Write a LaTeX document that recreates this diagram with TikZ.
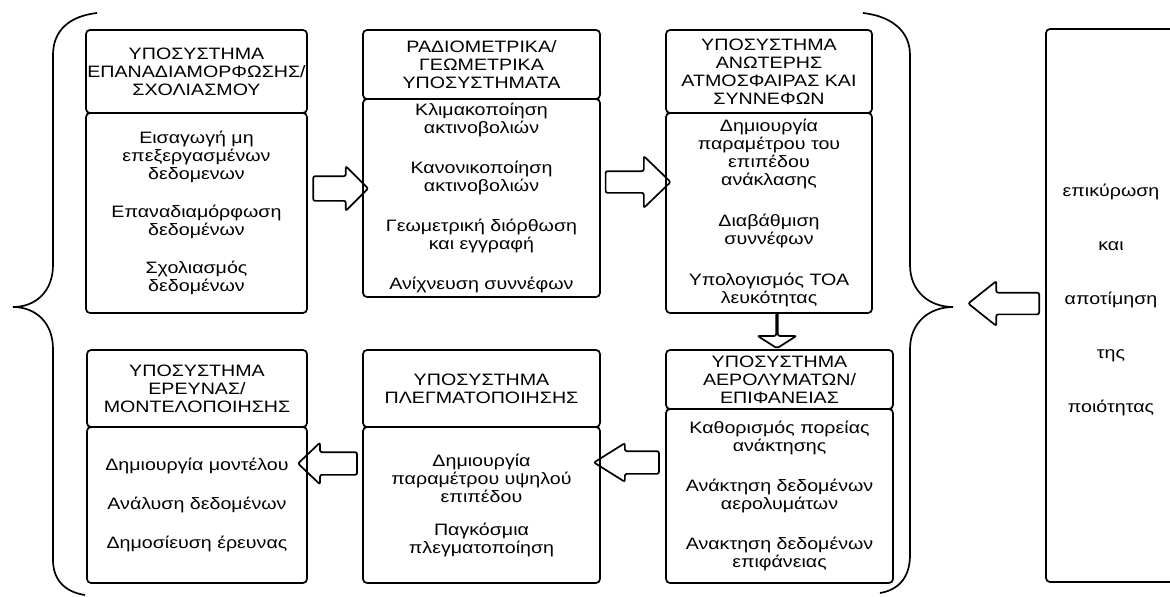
\documentclass[tikz,border=0pt]{standalone}
\usepackage{fontspec}
\setmainfont{Liberation Sans}[FakeStretch=1.19]
\usetikzlibrary{shapes.arrows}
\newcommand\boxfont{\fontsize{16.5}{18}\selectfont}
\begin{document}
\begin{tikzpicture}[x=1pt,y=-1pt,line width=1.7pt,
  box/.style={draw,rounded corners=4pt,inner sep=0pt,align=center,font=\boxfont},
  plain/.style={inner sep=0pt,align=center,font=\boxfont},
  barrow/.style={draw,single arrow,rounded corners=2pt,inner xsep=0pt,outer sep=0pt,minimum width=0pt},
  brace/.style={draw,line width=1.7pt}]
\useasboundingbox (0,0) rectangle (1170,597);

% top row
\node[box,minimum width=221pt,minimum height=83pt] (h1) at (196.5,71.5)
  {ΥΠΟΣΥΣΤΗΜΑ\\ΕΠΑΝΑΔΙΑΜΟΡΦΩΣΗΣ/\\ΣΧΟΛΙΑΣΜΟΥ};
\node[box,minimum width=221pt,minimum height=200pt] (b1) at (196.5,213)
  {Εισαγωγή μη\\επεξεργασμένων\\δεδομενων\\[20pt]Επαναδιαμόρφωση\\δεδομένων\\[20pt]Σχολιασμός\\δεδομένων};

\node[box,minimum width=237pt,minimum height=69pt] (h2) at (481.5,64.5)
  {ΡΑΔΙΟΜΕΤΡΙΚΑ/\\ΓΕΩΜΕΤΡΙΚΑ\\ΥΠΟΣΥΣΤΗΜΑΤΑ};
\node[box,minimum width=237pt,minimum height=198pt] (b2) at (481.5,198)
  {Κλιμακοποίηση\\ακτινοβολιών\\[22pt]Κανονικοποίηση\\ακτινοβολιών\\[22pt]Γεωμετρική διόρθωση\\και εγγραφή\\[22pt]Ανίχνευση συννέφων};

\node[box,minimum width=206pt,minimum height=83pt] (h3) at (769,71.5)
  {ΥΠΟΣΥΣΤΗΜΑ\\ΑΝΩΤΕΡΗΣ\\ΑΤΜΟΣΦΑΙΡΑΣ ΚΑΙ\\ΣΥΝΝΕΦΩΝ};
\node[box,minimum width=206pt,minimum height=200pt] (b3) at (769,213)
  {Δημιουργία\\παραμέτρου του\\επιπέδου\\ανάκλασης\\[23pt]Διαβάθμιση\\συννέφων\\[23pt]Υπολογισμός ΤΟΑ\\λευκότητας};

% bottom row
\node[box,minimum width=220pt,minimum height=77pt] (h4) at (197,388.5)
  {ΥΠΟΣΥΣΤΗΜΑ\\ΕΡΕΥΝΑΣ/\\ΜΟΝΤΕΛΟΠΟΙΗΣΗΣ};
\node[box,minimum width=220pt,minimum height=156pt] (b4) at (197,505)
  {Δημιουργία μοντέλου\\[21pt]Ανάλυση δεδομένων\\[21pt]Δημοσίευση έρευνας};

\node[box,minimum width=237pt,minimum height=77pt] (h5) at (481.5,388.5)
  {ΥΠΟΣΥΣΤΗΜΑ\\ΠΛΕΓΜΑΤΟΠΟΙΗΣΗΣ};
\node[box,minimum width=237pt,minimum height=156pt] (b5) at (481.5,505)
  {Δημιουργία\\παραμέτρου υψηλού\\επιπέδου\\[15pt]Παγκόσμια\\πλεγματοποίηση};

\node[box,minimum width=227pt,minimum height=59pt] (h6) at (779.5,379.5)
  {ΥΠΟΣΥΣΤΗΜΑ\\ΑΕΡΟΛΥΜΑΤΩΝ/\\ΕΠΙΦΑΝΕΙΑΣ};
\node[box,minimum width=227pt,minimum height=174pt] (b6) at (779.5,496)
  {Καθορισμός πορείας\\ανάκτησης\\[22pt]Ανάκτηση δεδομένων\\αερολυμάτων\\[22pt]Ανακτηση δεδομένων\\επιφάνειας};

% right box
\node[box,minimum width=130pt,minimum height=553pt] (rb) at (1111,305.5) {};
\node[plain] (rbt) at (1111,299.5)
  {επικύρωση\\[36pt]και\\[36pt]αποτίμηση\\[36pt]της\\[36pt]ποιότητας};

% block arrows
\node[barrow,minimum height=55pt,inner ysep=11.5pt,single arrow head extend=10pt,single arrow tip angle=90,shape border rotate=0] (a1) at (334.5,188.5) {};
\node[barrow,minimum height=65pt,inner ysep=10pt,single arrow head extend=15pt,single arrow tip angle=88,shape border rotate=0] (a2) at (632.5,182) {};
\node[barrow,minimum height=35pt,inner ysep=7pt,single arrow head extend=18.5pt,single arrow tip angle=115,shape border rotate=270] (a3) at (777,330.5) {};
\node[barrow,minimum height=65pt,inner ysep=10.5pt,single arrow head extend=8pt,single arrow tip angle=64,shape border rotate=180] (a4) at (635.5,462.5) {};
\node[barrow,minimum height=59pt,inner ysep=10.5pt,single arrow head extend=9.5pt,single arrow tip angle=87,shape border rotate=180] (a5) at (333.5,463.5) {};
\node[barrow,minimum height=71pt,inner ysep=10pt,single arrow head extend=11.5pt,single arrow tip angle=77,shape border rotate=180] (a6) at (1010.5,303.5) {};

% braces
\draw[brace] (97,13) .. controls (70,16) and (53,30) .. (53,55) -- (53,265)
  .. controls (53,292) and (35,307) .. (13,307)
  .. controls (35,307) and (53,322) .. (53,349) -- (53,560)
  .. controls (53,580) and (65,592) .. (85,595);
\draw[brace] (863,13) .. controls (890,16) and (910,30) .. (910,55) -- (910,265)
  .. controls (910,292) and (930,307) .. (953,307)
  .. controls (930,307) and (910,322) .. (910,349) -- (910,555)
  .. controls (910,578) and (898,590) .. (880,593);
\end{tikzpicture}
\end{document}
